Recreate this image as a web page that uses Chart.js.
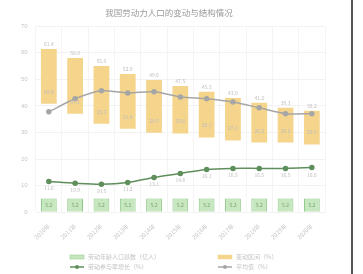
<!DOCTYPE html>
<html>
<head>
<meta charset="utf-8">
<script src="https://cdn.jsdelivr.net/npm/chart.js@4/dist/chart.umd.min.js"></script>
<style>
  html, body { margin: 0; padding: 0; background: #fff; }
  #wrap { position: relative; width: 351px; height: 274px; border-right: 2px solid #555; }
</style>
</head>
<body>
<div id="wrap"><canvas id="chart" width="351" height="274"></canvas></div>
<script>
// ─── data ────────────────────────────────────────────────────
const years = ['2010年', '2011年', '2012年', '2013年', '2014年', '2015年', '2016年', '2017年', '2018年', '2019年', '2020年'];
const rangeLow  = [40.8, 37.1, 33.3, 31.4, 29.9, 29.6, 28.1, 27.0, 26.2, 26.2, 25.5];
const rangeHigh = [61.4, 58.0, 55.0, 52.0, 49.8, 47.5, 45.3, 43.0, 41.2, 39.3, 38.2];
const avgLine   = [37.8, 42.7, 45.7, 44.9, 45.3, 43.4, 42.7, 41.5, 39.3, 37.1, 37.1];
const rateLine  = [11.6, 10.9, 10.5, 11.2, 13.1, 14.6, 16.1, 16.5, 16.5, 16.5, 16.8];
const baseBars  = [5.2, 5.2, 5.2, 5.2, 5.2, 5.2, 5.2, 5.2, 5.2, 5.2, 5.2];
const yTicks    = [0, 10, 20, 30, 40, 50, 60, 70];

// ─── small value labels next to the marks ────────────────────
const valueLabels = {
    id: 'valueLabels',
    afterDatasetsDraw(chart) {
        const ctx = chart.ctx;
        ctx.save();
        ctx.font = '5px "Noto Sans CJK SC", sans-serif';
        ctx.textAlign = 'center';
        ctx.textBaseline = 'middle';
        const yScale = chart.scales.y;
        chart.getDatasetMeta(1).data.forEach((bar, i) => {
            ctx.fillStyle = '#bdbdbd';
            ctx.fillText(rangeHigh[i].toFixed(1), bar.x, bar.y - 5);
            ctx.fillText(rangeLow[i].toFixed(1), bar.x, yScale.getPixelForValue(rangeLow[i]) - 12);
        });
        chart.getDatasetMeta(0).data.forEach((bar, i) => {
            ctx.fillStyle = '#78a871';
            ctx.fillText(baseBars[i].toFixed(1), bar.x, (bar.y + bar.base) / 2);
        });
        chart.getDatasetMeta(2).data.forEach((pt, i) => {
            ctx.fillStyle = '#bdbdbd';
            ctx.fillText(rateLine[i].toFixed(1), pt.x, pt.y + 7);
        });
        ctx.restore();
    }
};

// ─── legend drawn as a 2 x 2 grid under the chart ────────────
const gridLegend = {
    id: 'gridLegend',
    afterDraw(chart) {
        const ctx = chart.ctx;
        const cols = [70, 218], rows = [257, 267];
        ctx.save();
        ctx.font = '6px "Noto Sans CJK SC", sans-serif';
        ctx.textBaseline = 'middle';
        chart.data.datasets.forEach((ds, i) => {
            const x = cols[i % 2], y = rows[Math.floor(i / 2)];
            if (ds.type === 'line') {
                ctx.strokeStyle = ds.borderColor;
                ctx.lineWidth = 1.5;
                ctx.beginPath(); ctx.moveTo(x, y); ctx.lineTo(x + 14, y); ctx.stroke();
                ctx.fillStyle = ds.borderColor;
                ctx.beginPath(); ctx.arc(x + 7, y, 2, 0, Math.PI * 2); ctx.fill();
            } else {
                ctx.fillStyle = ds.backgroundColor;
                ctx.fillRect(x, y - 2, 14, 4);
                ctx.strokeStyle = ds.borderColor;
                ctx.lineWidth = 0.5;
                ctx.strokeRect(x, y - 2, 14, 4);
            }
            ctx.fillStyle = '#c4c4c4';
            ctx.fillText(ds.label, x + 18, y);
        });
        ctx.restore();
    }
};

const ctx = document.getElementById('chart').getContext('2d');
const chart = new Chart(ctx, {
    data: {
        labels: years,
        datasets: [
            { type: 'bar', label: '劳动年龄人口基数（亿人）', data: baseBars,
              backgroundColor: '#c6e7bf', borderColor: '#8dc785', borderWidth: 1,
              grouped: false, barPercentage: 0.6, categoryPercentage: 1, order: 3 },
            { type: 'bar', label: '变动区间（%）', data: rangeLow.map((v, i) => [v, rangeHigh[i]]),
              backgroundColor: '#f5d48c', borderColor: '#f5d48c', borderWidth: 0,
              grouped: false, barPercentage: 0.6, categoryPercentage: 1, order: 4 },
            { type: 'line', label: '劳动参与率增长（%）', data: rateLine,
              borderColor: '#5f8f5c', backgroundColor: '#5f8f5c', borderWidth: 1.5,
              pointRadius: 2, tension: 0.3, order: 1 },
            { type: 'line', label: '平均值（%）', data: avgLine,
              borderColor: '#a6a6a6', backgroundColor: '#a6a6a6', borderWidth: 1.5,
              pointRadius: 2, tension: 0.3, order: 2 }
        ]
    },
    options: {
        responsive: false,
        animation: false,
        layout: { padding: { left: 13, right: 26, bottom: 23 } },
        plugins: {
            legend: { display: false },
            tooltip: { enabled: false },
            title: {
                display: true,
                text: '我国劳动力人口的变动与结构情况',
                color: '#9a9a9a',
                font: { size: 8.5, family: '"Noto Sans CJK SC", sans-serif', weight: 'normal' },
                padding: { top: 8, bottom: 8 }
            }
        },
        scales: {
            x: {
                grid: { color: '#f4f4f4', drawTicks: false },
                border: { display: false },
                ticks: { color: '#c6c6c6', font: { size: 6, family: '"Noto Sans CJK SC", sans-serif' },
                         minRotation: 45, maxRotation: 45, padding: 10 }
            },
            y: {
                min: 0, max: 70,
                afterBuildTicks: axis => { axis.ticks = yTicks.map(v => ({ value: v })); },
                grid: { color: '#f2f2f2', drawTicks: false },
                border: { display: false },
                ticks: { color: '#c6c6c6', font: { size: 6 }, padding: 8 }
            }
        }
    },
    plugins: [valueLabels, gridLegend]
});
</script>
</body>
</html>
